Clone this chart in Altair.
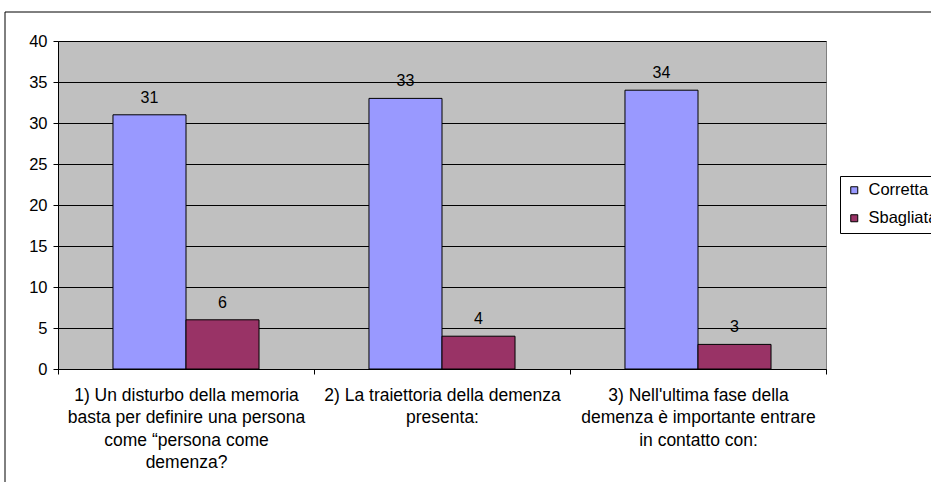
import altair as alt
import pandas as pd

categories = [
    "1) Un disturbo della memoria\nbasta per definire una persona\ncome “persona come\ndemenza?",
    "2) La traiettoria della demenza\npresenta:",
    "3) Nell'ultima fase della\ndemenza è importante entrare\nin contatto con:",
]
series = ["Corretta", "Sbagliata"]
corretta = [31, 33, 34]
sbagliata = [6, 4, 3]

rows = []
for i, c in enumerate(categories):
    rows.append({"cat": c, "serie": "Corretta", "val": corretta[i]})
    rows.append({"cat": c, "serie": "Sbagliata", "val": sbagliata[i]})
df = pd.DataFrame(rows)

FONT = "Liberation Sans"

x = alt.X("cat:N", sort=categories, title=None,
          scale=alt.Scale(paddingInner=0, paddingOuter=0),
          axis=alt.Axis(labelExpr="split(datum.label, '\\n')", labelAngle=0,
                        labelFontSize=17.5, labelColor="black", labelFont=FONT,
                        labelLineHeight=22.5, labelPadding=12, labelLimit=300,
                        tickBand="extent", tickSize=5, tickColor="black",
                        domainColor="black", grid=False))
xo = alt.XOffset("serie:N", sort=series,
                 scale=alt.Scale(paddingInner=0, paddingOuter=0.753))

bars = alt.Chart(df).mark_bar(stroke="black", strokeWidth=1).encode(
    x=x, xOffset=xo,
    y=alt.Y("val:Q", title=None,
            scale=alt.Scale(domain=[0, 40], nice=False),
            axis=alt.Axis(values=list(range(0, 41, 5)), tickSize=5,
                          tickColor="black", domainColor="black",
                          gridColor="black", gridOpacity=1, gridWidth=1,
                          labelFontSize=16.5, labelColor="black", labelFont=FONT,
                          labelPadding=6)),
    color=alt.Color("serie:N", sort=series,
                    scale=alt.Scale(domain=series, range=["#9999FF", "#993366"]),
                    legend=alt.Legend(title=None, orient="none", legendX=782, legendY=135,
                                      symbolType="square", symbolSize=49,
                                      symbolStrokeColor="black", symbolStrokeWidth=1,
                                      labelFontSize=16.5, labelFont=FONT, labelColor="black",
                                      labelOffset=6, rowPadding=11, padding=6,
                                      labelLimit=300,
                                      strokeColor="black", fillColor="white")),
)

text = alt.Chart(df).mark_text(baseline="alphabetic", dy=-12, fontSize=16, font=FONT,
                               color="black").encode(
    x=alt.X("cat:N", sort=categories), xOffset=xo,
    y="val:Q", text="val:Q")

border = alt.Chart(pd.DataFrame({"k": [0]})).mark_rect(
    fill=None, stroke="black", strokeWidth=1).encode(
    x=alt.value(-53), x2=alt.value(900), y=alt.value(-29), y2=alt.value(460))

chart = alt.layer(bars, text, border).properties(
    width=768, height=328,
    padding={"left": 58, "top": 41, "right": 105, "bottom": 113},
    autosize=alt.AutoSizeParams(type="none"),
    background="white",
).configure_view(fill="#C0C0C0", stroke="#808080", strokeWidth=1)

chart.save("out.html", embed_options={"renderer": "svg", "actions": False})
